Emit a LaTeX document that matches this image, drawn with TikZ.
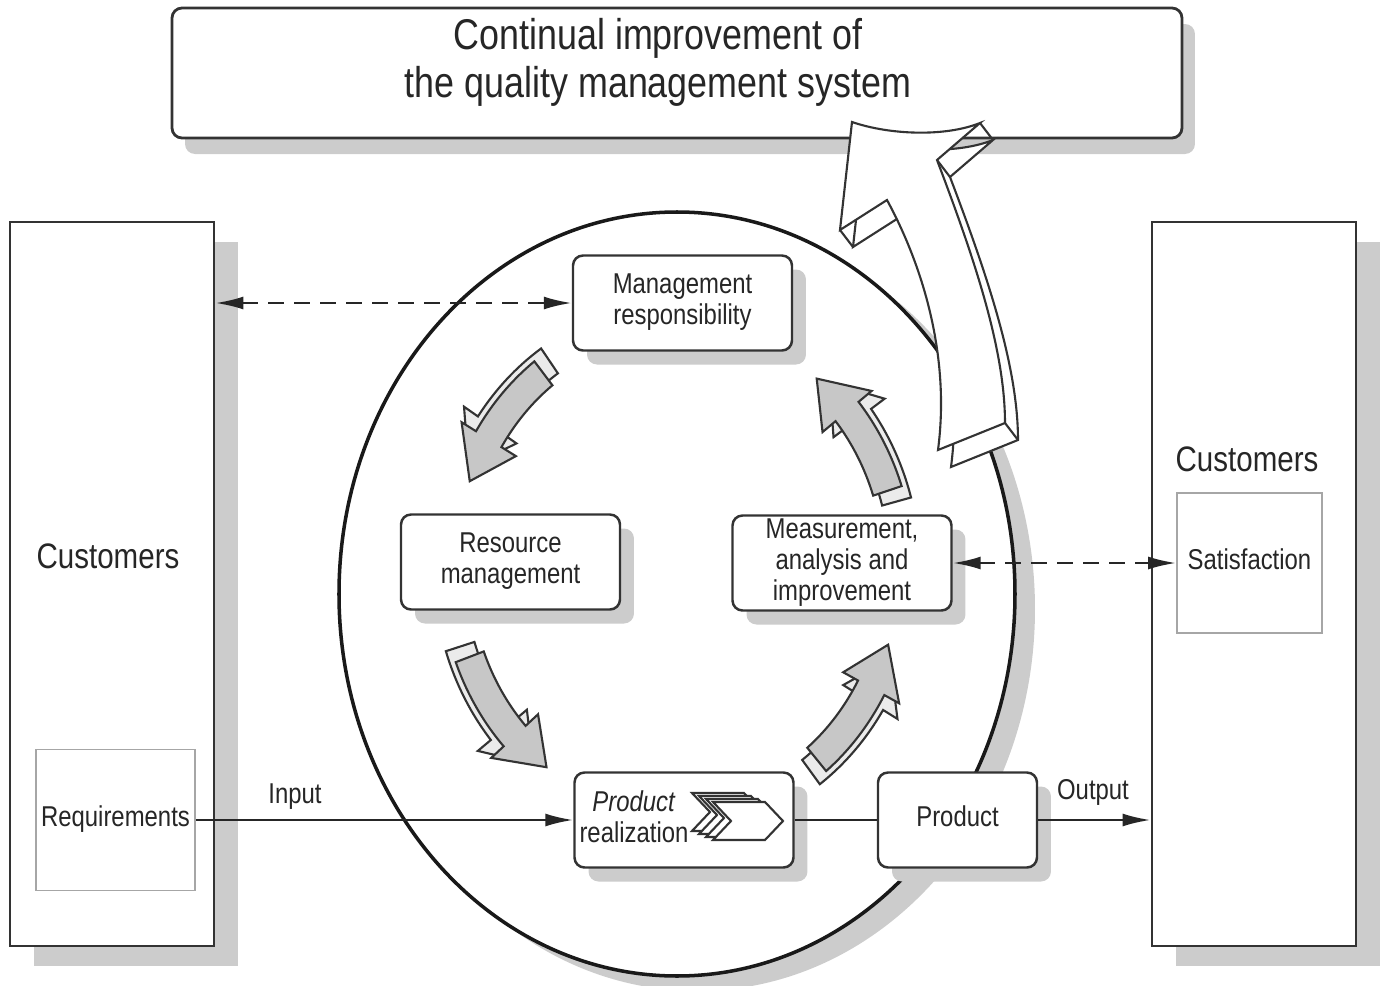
\documentclass[tikz,border=0pt]{standalone}
\usepackage{fontspec}
\setmainfont{Liberation Sans}
\usepackage{graphicx}
\usetikzlibrary{arrows.meta,shadows}

\newcommand{\tallt}[1]{\scalebox{1}[1.2]{\begin{tabular}{@{}c@{}}#1\end{tabular}}}
\newcommand{\smallfont}{\fontsize{6.8}{7.4}\selectfont}
% curved arrow of the cycle: tail angle, tip angle, radial offset
\newcommand{\cyclepath}[3]{({(237+#3)*cos(#1)},{(260+#3)*sin(#1)})
  arc[start angle=#1,end angle=#2-11,x radius=237+#3,y radius=260+#3]
  -- ({(254+#3)*cos(#2-11)},{(277+#3)*sin(#2-11)})
  -- ({(222+#3)*cos(#2)},{(245+#3)*sin(#2)})
  -- ({(190+#3)*cos(#2-11)},{(213+#3)*sin(#2-11)})
  -- ({(207+#3)*cos(#2-11)},{(230+#3)*sin(#2-11)})
  arc[start angle=#2-11,end angle=#1,x radius=207+#3,y radius=230+#3]
  -- cycle}
% big white arrow to the top box
\newcommand{\bigarrowpath}{(852,863) .. controls (890,850) and (945,848) .. (980,862)
  -- (937,825) .. controls (975,725) and (1005,635) .. (1005,562)
  -- (938,535) .. controls (950,625) and (925,715) .. (887,785)
  -- (840,755) -- cycle}

\tikzset{
  bigbox/.style={draw=black!80,line width=0.8pt,fill=white,inner sep=0pt,
    minimum width=20.4mm,minimum height=72.4mm,
    drop shadow={shadow xshift=2.4mm,shadow yshift=-2mm,fill=black!20,opacity=1}},
  innerbox/.style={draw=black!35,line width=0.5pt,fill=white,inner sep=0pt,font=\smallfont},
  stepbox/.style={draw=black!80,line width=0.7pt,rounded corners=1mm,fill=white,
    inner sep=0pt,minimum width=21.9mm,minimum height=9.5mm,font=\smallfont,
    drop shadow={shadow xshift=1.4mm,shadow yshift=-1.4mm,fill=black!20,opacity=1}},
  dasharrow/.style={{Latex[length=2.8mm,width=1.3mm]}-{Latex[length=2.8mm,width=1.3mm]},
    line width=0.7pt,dash pattern=on 1.6mm off 1mm,draw=black!85},
  flow/.style={-{Latex[length=2.8mm,width=1.3mm]},line width=0.7pt,draw=black!85},
  arrowfront/.style={fill=black!22,draw=black!80,line width=0.6pt},
  arrowback/.style={fill=black!8,draw=black!80,line width=0.6pt},
  every node/.style={text=black!85}
}

\begin{document}
\begin{tikzpicture}[x=0.1mm,y=0.1mm]
	\useasboundingbox (0,0) rectangle (1380,985);

	% Loop of the system
	\draw[line width=1pt,draw=black!90,fill=white,
	  drop shadow={shadow xshift=2mm,shadow yshift=-1.5mm,fill=black!20,opacity=1}]
	  (677,391) ellipse [x radius=338,y radius=382];
	\coordinate (cyc) at (677,416);

	% Nodes start here
	\node (top) at (677,912) [draw=black!80,line width=0.8pt,rounded corners=1mm,fill=white,
	  minimum width=101mm,minimum height=13mm,
	  drop shadow={shadow xshift=1.3mm,shadow yshift=-1.6mm,fill=black!20,opacity=1}] {};
	\node (toptext) at (658,921) [font=\fontsize{10.2}{11.4}\selectfont]
	  {\tallt{Continual improvement of\\the quality management system}};

	\node (custL) at (112,401) [bigbox] {};
	\node (custR) at (1254,401) [bigbox] {};
	\node (custLtext) at (108,425) [font=\fontsize{8.4}{10}\selectfont] {\tallt{Customers}};
	\node (custRtext) at (1247,522) [font=\fontsize{8.4}{10}\selectfont] {\tallt{Customers}};
	\node (req) at (115.5,165) [innerbox,minimum width=15.9mm,minimum height=14.1mm] {\tallt{Requirements}};
	\node (sat) at (1249.5,422) [innerbox,minimum width=14.5mm,minimum height=14mm] {\tallt{Satisfaction}};

	\node (mr) at (682.5,682) [stepbox] {\tallt{Management\\responsibility}};
	\node (rm) at (510.5,423) [stepbox] {\tallt{Resource\\management}};
	\node (ma) at (842,422) [stepbox] {\tallt{Measurement,\\analysis and\\improvement}};
	\node (pr) at (684,165) [stepbox] {};
	\node (prtext) at (634,164) [font=\smallfont] {\tallt{\textit{Product}\\realization}};
	\node (prod) at (957.5,165) [stepbox,minimum width=15.9mm] {\tallt{Product}};

	\node (input) at (295,188) [font=\smallfont] {\tallt{Input}};
	\node (output) at (1093,192) [font=\smallfont] {\tallt{Output}};

	% Lines start here
	\draw[dasharrow] (mr.west -| custL.east) -- (mr.west);
	\draw[dasharrow] (ma.east) -- (ma.east -| sat.west);
	\draw[flow] (req.east) -- (pr.west);
	\draw[line width=0.7pt,draw=black!85] (pr.east) -- (prod.west);
	\draw[flow] (prod.east) -- (prod.east -| custR.west);

	% Arrows of the cycle
	\foreach \tail/\tip in {127/159, 201/234, 309/342, 18.6/51}{
		\filldraw[arrowback,shift={(cyc)}] \cyclepath{\tail-3}{\tip-3}{6};
		\filldraw[arrowfront,shift={(cyc)}] \cyclepath{\tail}{\tip}{0};
	}

	% Process sign in product realization
	\foreach \k in {3,2,1,0}
		\filldraw[fill=white,draw=black!80,line width=0.6pt,shift={(-7*\k,3*\k)}]
		  (713,183) -- (765,183) -- (783,164) -- (765,145) -- (713,145) -- (731,164) -- cycle;

	% Continual improvement arrow
	\filldraw[fill=white,draw=black!80,line width=0.6pt,shift={(13,-17)}] \bigarrowpath;
	\foreach \x/\y in {980/862, 937/825, 840/755, 887/785, 1005/562}
		\draw[black!80,line width=0.6pt] (\x,\y) -- ++(13,-17);
	\filldraw[fill=white,draw=black!80,line width=0.6pt] \bigarrowpath;

\end{tikzpicture}
\end{document}
